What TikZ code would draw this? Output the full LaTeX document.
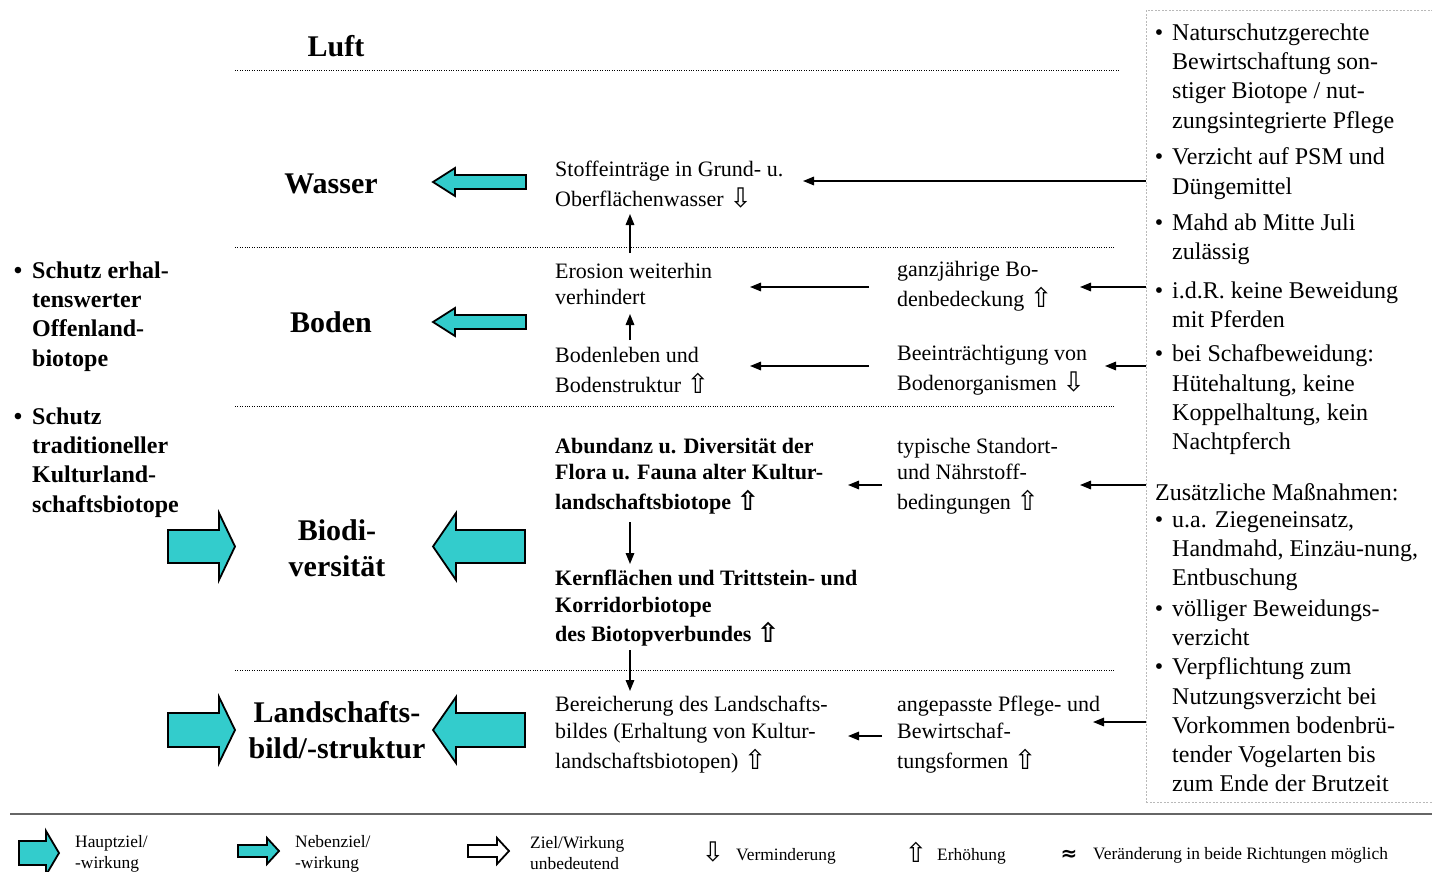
\documentclass[tikz,border=0pt]{standalone}
\usepackage{fontspec}
\setmainfont{Liberation Serif}
\newfontfamily\symf{DejaVu Sans}
\usetikzlibrary{arrows.meta}
\definecolor{tq}{HTML}{33CCCC}
\newcommand\arrUp{\raisebox{-1pt}{\symf\fontsize{27}{27}\selectfont ⇧}}
\newcommand\arrDn{\raisebox{-1pt}{\symf\fontsize{27}{27}\selectfont ⇩}}
\begin{document}
\begin{tikzpicture}[x=1pt,y=-1pt,
  txt/.style={inner sep=0pt, align=left, anchor=west, font={\fontsize{22}{26.5}\selectfont}},
  btxt/.style={txt, font={\fontsize{22}{26.5}\selectfont\bfseries}},
  pan/.style={inner sep=0pt, align=left, anchor=west, font={\fontsize{24}{29.3}\selectfont}},
  lft/.style={inner sep=0pt, align=left, anchor=west, font={\fontsize{24}{29.3}\selectfont\bfseries}},
  head/.style={inner sep=0pt, align=center, font={\fontsize{30}{36}\selectfont\bfseries}},
  leg/.style={inner sep=0pt, align=left, anchor=west, font={\fontsize{17.4}{21}\selectfont}},
  conn/.style={line width=1.6pt, -{Triangle[length=11pt,width=8.5pt]}},
  sep/.style={line width=1pt, dash pattern=on 1pt off 1.4pt},
  bigarr/.style={draw=black, line width=1.8pt, fill=tq, line join=miter},
  hollow/.style={draw=black, line width=1.8pt, fill=white, line join=miter}]
\useasboundingbox (0,0) rectangle (1432,872);

% measures panel
\node[draw=gray!55, line width=0.8pt, dash pattern=on 2pt off 1.5pt, inner sep=0pt,
      minimum width=290pt, minimum height=792pt, anchor=north west] (panel) at (1146,10) {};

% layer separators
\draw[sep] (235,71) -- (1120,71);
\draw[sep] (235,247) -- (1115,247);
\draw[sep] (235,406) -- (1115,406);
\draw[sep] (235,670) -- (1115,670);
\draw[line width=1.4pt, gray!80!black] (10,814) -- (1432,814);

% layer headings
\node[head] (luft) at (336,46) {Luft};
\node[head] (wasser) at (331,184) {Wasser};
\node[head] (boden) at (331,322) {Boden};
\node[head] (biodiv) at (337,548) {Biodi-\\versität};
\node[head] (land) at (337,730) {Landschafts-\\bild/-struktur};

% goal arrows (main and secondary)
\draw[bigarr] (526,175) -- (455,175) -- (455,168) -- (433,182) -- (455,196) -- (455,189) -- (526,189) -- cycle;
\draw[bigarr] (526,315) -- (455,315) -- (455,308) -- (433,322) -- (455,336) -- (455,329) -- (526,329) -- cycle;
\draw[bigarr] (525,530) -- (456,530) -- (456,513) -- (433,546.5) -- (456,580) -- (456,563) -- (525,563) -- cycle;
\draw[bigarr] (525,713) -- (456,713) -- (456,697) -- (433,730) -- (456,763) -- (456,747) -- (525,747) -- cycle;
\draw[bigarr] (168,530) -- (219,530) -- (219,513) -- (235,546.5) -- (219,580) -- (219,563) -- (168,563) -- cycle;
\draw[bigarr] (168,713) -- (219,713) -- (219,697) -- (235,730) -- (219,763) -- (219,747) -- (168,747) -- cycle;

% protection goals
\node[lft] (goal1) at (32,316.5) {\llap{•\hspace{10pt}}Schutz erhal-\\tenswerter\\Offenland-\\biotope};
\node[lft] (goal2) at (32,462.5) {\llap{•\hspace{10pt}}Schutz\\traditioneller\\Kulturland-\\schaftsbiotope};

% effects
\node[txt] (stoff) at (555,185) {Stoffeinträge in Grund- u.\\[3.5pt]Oberflächenwasser \arrDn};
\node[txt] (ero) at (555,284) {Erosion weiterhin\\verhindert};
\node[txt] (bedeck) at (897,286) {ganzjährige Bo-\\[3.5pt]denbedeckung \arrUp};
\node[txt] (bodenl) at (555,370) {Bodenleben und\\[3.5pt]Bodenstruktur \arrUp};
\node[txt] (beein) at (897,370) {Beeinträchtigung von\\[3.5pt]Bodenorganismen \arrDn};
\node[btxt] (abund) at (555,476) {Abundanz u. Diversität der\\Flora u. Fauna alter Kultur-\\[3.5pt]landschaftsbiotope \arrUp};
\node[txt] (typ) at (897,476) {typische Standort-\\und Nährstoff-\\[3.5pt]bedingungen \arrUp};
\node[btxt] (kern) at (555,608) {Kernflächen und Trittstein- und\\Korridorbiotope\\[2.5pt]des Biotopverbundes \arrUp};
\node[txt] (berei) at (555,734.5) {Bereicherung des Landschafts-\\bildes (Erhaltung von Kultur-\\[3.5pt]landschaftsbiotopen) \arrUp};
\node[txt] (angep) at (897,734.5) {angepasste Pflege- und\\Bewirtschaf-\\[3.5pt]tungsformen \arrUp};

% measures
\node[pan] (m1) at (1172,78.5) {\llap{•\hspace{9pt}}Naturschutzgerechte\\Bewirtschaftung son-\\stiger Biotope / nut-\\zungsintegrierte Pflege};
\node[pan] (m2) at (1172,173.5) {\llap{•\hspace{9pt}}Verzicht auf PSM und\\Düngemittel};
\node[pan] (m3) at (1172,239) {\llap{•\hspace{9pt}}Mahd ab Mitte Juli\\zulässig};
\node[pan] (m4) at (1172,305) {\llap{•\hspace{9pt}}i.d.R. keine Beweidung\\mit Pferden};
\node[pan] (m5) at (1172,400) {\llap{•\hspace{9pt}}bei Schafbeweidung:\\Hütehaltung, keine\\Koppelhaltung, kein\\Nachtpferch};
\node[pan] (mz) at (1155,492.5) {Zusätzliche Maßnahmen:};
\node[pan] (m6) at (1172,551) {\llap{•\hspace{9pt}}u.a. Ziegeneinsatz,\\Handmahd, Einzäu-nung,\\Entbuschung};
\node[pan] (m7) at (1172,623) {\llap{•\hspace{9pt}}völliger Beweidungs-\\verzicht};
\node[pan] (m8) at (1172,725) {\llap{•\hspace{9pt}}Verpflichtung zum\\Nutzungsverzicht bei\\Vorkommen bodenbrü-\\tender Vogelarten bis\\zum Ende der Brutzeit};

% connector ends
\coordinate (tStoff) at (803,181);
\coordinate (tBed) at (1080,287);
\coordinate (sBed) at (869,287);
\coordinate (tEro) at (750,287);
\coordinate (tBein) at (1105,366);
\coordinate (sBein) at (869,366);
\coordinate (tBodl) at (750,366);
\coordinate (tTyp) at (1080,485);
\coordinate (sTyp) at (882,485);
\coordinate (tAbund) at (848,485);
\coordinate (tAng) at (1093,722);
\coordinate (sAng) at (882,736);
\coordinate (tBerei) at (848,736);
\coordinate (ups1) at (630,253);
\coordinate (upe1) at (630,214);
\coordinate (ups2) at (630,340);
\coordinate (upe2) at (630,314);
\coordinate (dns1) at (630,522);
\coordinate (dne1) at (630,564);
\coordinate (dns2) at (630,650);
\coordinate (dne2) at (630,691);

% connectors
\draw[conn] (panel.west |- tStoff) -- (tStoff);
\draw[conn] (panel.west |- tBed) -- (tBed);
\draw[conn] (sBed) -- (tEro);
\draw[conn] (panel.west |- tBein) -- (tBein);
\draw[conn] (sBein) -- (tBodl);
\draw[conn] (panel.west |- tTyp) -- (tTyp);
\draw[conn] (sTyp) -- (tAbund);
\draw[conn] (panel.west |- tAng) -- (tAng);
\draw[conn] (sAng) -- (tBerei);
\draw[conn] (ups1) -- (upe1);
\draw[conn] (ups2) -- (upe2);
\draw[conn] (dns1) -- (dne1);
\draw[conn] (dns2) -- (dne2);

% legend
\draw[bigarr] (19,841) -- (46,841) -- (46,831) -- (59,853) -- (46,875) -- (46,865) -- (19,865) -- cycle;
\node[leg] (l1) at (75,853.5) {Hauptziel/\\-wirkung};
\draw[bigarr] (238,845) -- (267,845) -- (267,838) -- (279,851) -- (267,864) -- (267,857) -- (238,857) -- cycle;
\node[leg] (l2) at (295,853.5) {Nebenziel/\\-wirkung};
\draw[hollow] (468,845) -- (497,845) -- (497,838) -- (509,851) -- (497,864) -- (497,857) -- (468,857) -- cycle;
\node[leg] (l3) at (530,853.5) {Ziel/Wirkung\\unbedeutend};
\node[inner sep=0pt] (l4s) at (713,852) {\arrDn};
\node[leg] (l4) at (736,856) {Verminderung};
\node[inner sep=0pt] (l5s) at (916,852) {\arrUp};
\node[leg] (l5) at (937,856) {Erhöhung};
\node[inner sep=0pt, font={\symf\bfseries\fontsize{20}{20}\selectfont}] (l6s) at (1069,855) {≈};
\node[leg] (l6) at (1093,855) {Veränderung in beide Richtungen möglich};
\end{tikzpicture}
\end{document}
